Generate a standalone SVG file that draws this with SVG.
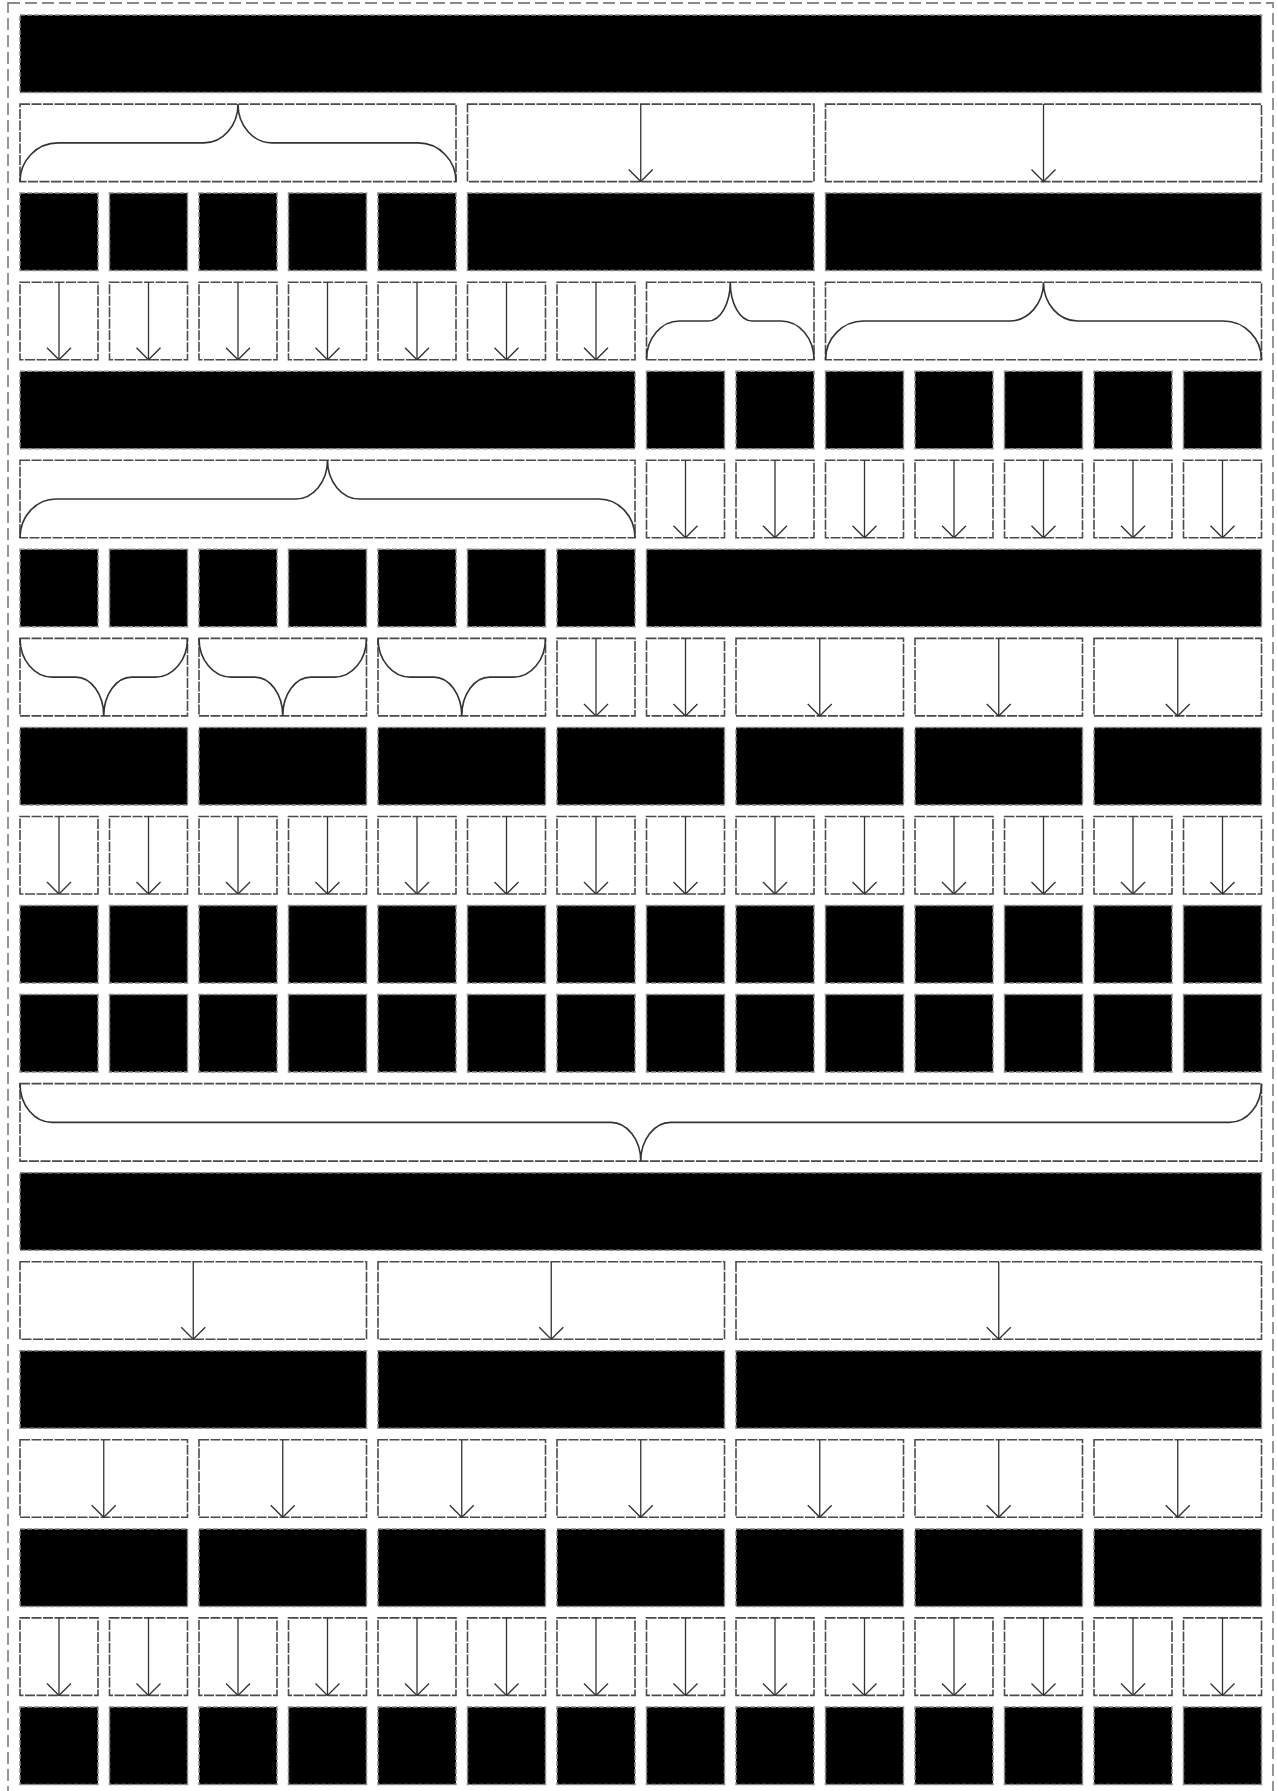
<svg xmlns="http://www.w3.org/2000/svg" width="1277" height="1791" viewBox="0 0 1277 1791">
<style>
.b{fill:#000;stroke:#8a8a8a;stroke-width:1.5;stroke-dasharray:5 2}
.w{fill:#fff;stroke:#4a4a4a;stroke-width:1.6;stroke-dasharray:10 1.5}
.c{fill:none;stroke:#333;stroke-width:1.6}
.a{stroke:#333;stroke-width:1.3;marker-end:url(#ah)}
.frame{fill:none;stroke:#8a8a8a;stroke-width:1.8;stroke-dasharray:12 5}
</style>
<defs>
<marker id="ah" viewBox="0 0 14 26" refX="13" refY="13" markerWidth="14" markerHeight="26" markerUnits="userSpaceOnUse" orient="auto"><path d="M1,1 L13,13 L1,25" fill="none" stroke="#333" stroke-width="1.4"/></marker>
</defs>
<rect width="1277" height="1791" fill="#fff"/>
<rect class="frame" x="8" y="3" width="1265" height="1800"/>
<g id="nodes">
<g transform="translate(0,15)">
<g id="n0_0"><rect class="b" x="20" width="1241.5" height="77.5"/></g>
</g>
<g transform="translate(0,104.1)">
<g id="n1_0"><rect class="w" x="20" width="436" height="77.5"/></g>
<g id="n1_5"><rect class="w" x="467.5" width="346.5" height="77.5"/></g>
<g id="n1_9"><rect class="w" x="825.5" width="436" height="77.5"/></g>
</g>
<g transform="translate(0,193.1)">
<g id="n2_0"><rect class="b" x="20" width="78" height="77.5"/></g>
<g id="n2_1"><rect class="b" x="109.5" width="78" height="77.5"/></g>
<g id="n2_2"><rect class="b" x="199" width="78" height="77.5"/></g>
<g id="n2_3"><rect class="b" x="288.5" width="78" height="77.5"/></g>
<g id="n2_4"><rect class="b" x="378" width="78" height="77.5"/></g>
<g id="n2_5"><rect class="b" x="467.5" width="346.5" height="77.5"/></g>
<g id="n2_9"><rect class="b" x="825.5" width="436" height="77.5"/></g>
</g>
<g transform="translate(0,282.2)">
<g id="n3_0"><rect class="w" x="20" width="78" height="77.5"/></g>
<g id="n3_1"><rect class="w" x="109.5" width="78" height="77.5"/></g>
<g id="n3_2"><rect class="w" x="199" width="78" height="77.5"/></g>
<g id="n3_3"><rect class="w" x="288.5" width="78" height="77.5"/></g>
<g id="n3_4"><rect class="w" x="378" width="78" height="77.5"/></g>
<g id="n3_5"><rect class="w" x="467.5" width="78" height="77.5"/></g>
<g id="n3_6"><rect class="w" x="557" width="78" height="77.5"/></g>
<g id="n3_7"><rect class="w" x="646.5" width="167.5" height="77.5"/></g>
<g id="n3_9"><rect class="w" x="825.5" width="436" height="77.5"/></g>
</g>
<g transform="translate(0,371.2)">
<g id="n4_0"><rect class="b" x="20" width="615" height="77.5"/></g>
<g id="n4_7"><rect class="b" x="646.5" width="78" height="77.5"/></g>
<g id="n4_8"><rect class="b" x="736" width="78" height="77.5"/></g>
<g id="n4_9"><rect class="b" x="825.5" width="78" height="77.5"/></g>
<g id="n4_10"><rect class="b" x="915" width="78" height="77.5"/></g>
<g id="n4_11"><rect class="b" x="1004.5" width="78" height="77.5"/></g>
<g id="n4_12"><rect class="b" x="1094" width="78" height="77.5"/></g>
<g id="n4_13"><rect class="b" x="1183.5" width="78" height="77.5"/></g>
</g>
<g transform="translate(0,460.3)">
<g id="n5_0"><rect class="w" x="20" width="615" height="77.5"/></g>
<g id="n5_7"><rect class="w" x="646.5" width="78" height="77.5"/></g>
<g id="n5_8"><rect class="w" x="736" width="78" height="77.5"/></g>
<g id="n5_9"><rect class="w" x="825.5" width="78" height="77.5"/></g>
<g id="n5_10"><rect class="w" x="915" width="78" height="77.5"/></g>
<g id="n5_11"><rect class="w" x="1004.5" width="78" height="77.5"/></g>
<g id="n5_12"><rect class="w" x="1094" width="78" height="77.5"/></g>
<g id="n5_13"><rect class="w" x="1183.5" width="78" height="77.5"/></g>
</g>
<g transform="translate(0,549.3)">
<g id="n6_0"><rect class="b" x="20" width="78" height="77.5"/></g>
<g id="n6_1"><rect class="b" x="109.5" width="78" height="77.5"/></g>
<g id="n6_2"><rect class="b" x="199" width="78" height="77.5"/></g>
<g id="n6_3"><rect class="b" x="288.5" width="78" height="77.5"/></g>
<g id="n6_4"><rect class="b" x="378" width="78" height="77.5"/></g>
<g id="n6_5"><rect class="b" x="467.5" width="78" height="77.5"/></g>
<g id="n6_6"><rect class="b" x="557" width="78" height="77.5"/></g>
<g id="n6_7"><rect class="b" x="646.5" width="615" height="77.5"/></g>
</g>
<g transform="translate(0,638.4)">
<g id="n7_0"><rect class="w" x="20" width="167.5" height="77.5"/></g>
<g id="n7_2"><rect class="w" x="199" width="167.5" height="77.5"/></g>
<g id="n7_4"><rect class="w" x="378" width="167.5" height="77.5"/></g>
<g id="n7_6"><rect class="w" x="557" width="78" height="77.5"/></g>
<g id="n7_7"><rect class="w" x="646.5" width="78" height="77.5"/></g>
<g id="n7_8"><rect class="w" x="736" width="167.5" height="77.5"/></g>
<g id="n7_10"><rect class="w" x="915" width="167.5" height="77.5"/></g>
<g id="n7_12"><rect class="w" x="1094" width="167.5" height="77.5"/></g>
</g>
<g transform="translate(0,727.4)">
<g id="n8_0"><rect class="b" x="20" width="167.5" height="77.5"/></g>
<g id="n8_2"><rect class="b" x="199" width="167.5" height="77.5"/></g>
<g id="n8_4"><rect class="b" x="378" width="167.5" height="77.5"/></g>
<g id="n8_6"><rect class="b" x="557" width="167.5" height="77.5"/></g>
<g id="n8_8"><rect class="b" x="736" width="167.5" height="77.5"/></g>
<g id="n8_10"><rect class="b" x="915" width="167.5" height="77.5"/></g>
<g id="n8_12"><rect class="b" x="1094" width="167.5" height="77.5"/></g>
</g>
<g transform="translate(0,816.5)">
<g id="n9_0"><rect class="w" x="20" width="78" height="77.5"/></g>
<g id="n9_1"><rect class="w" x="109.5" width="78" height="77.5"/></g>
<g id="n9_2"><rect class="w" x="199" width="78" height="77.5"/></g>
<g id="n9_3"><rect class="w" x="288.5" width="78" height="77.5"/></g>
<g id="n9_4"><rect class="w" x="378" width="78" height="77.5"/></g>
<g id="n9_5"><rect class="w" x="467.5" width="78" height="77.5"/></g>
<g id="n9_6"><rect class="w" x="557" width="78" height="77.5"/></g>
<g id="n9_7"><rect class="w" x="646.5" width="78" height="77.5"/></g>
<g id="n9_8"><rect class="w" x="736" width="78" height="77.5"/></g>
<g id="n9_9"><rect class="w" x="825.5" width="78" height="77.5"/></g>
<g id="n9_10"><rect class="w" x="915" width="78" height="77.5"/></g>
<g id="n9_11"><rect class="w" x="1004.5" width="78" height="77.5"/></g>
<g id="n9_12"><rect class="w" x="1094" width="78" height="77.5"/></g>
<g id="n9_13"><rect class="w" x="1183.5" width="78" height="77.5"/></g>
</g>
<g transform="translate(0,905.5)">
<g id="n10_0"><rect class="b" x="20" width="78" height="77.5"/></g>
<g id="n10_1"><rect class="b" x="109.5" width="78" height="77.5"/></g>
<g id="n10_2"><rect class="b" x="199" width="78" height="77.5"/></g>
<g id="n10_3"><rect class="b" x="288.5" width="78" height="77.5"/></g>
<g id="n10_4"><rect class="b" x="378" width="78" height="77.5"/></g>
<g id="n10_5"><rect class="b" x="467.5" width="78" height="77.5"/></g>
<g id="n10_6"><rect class="b" x="557" width="78" height="77.5"/></g>
<g id="n10_7"><rect class="b" x="646.5" width="78" height="77.5"/></g>
<g id="n10_8"><rect class="b" x="736" width="78" height="77.5"/></g>
<g id="n10_9"><rect class="b" x="825.5" width="78" height="77.5"/></g>
<g id="n10_10"><rect class="b" x="915" width="78" height="77.5"/></g>
<g id="n10_11"><rect class="b" x="1004.5" width="78" height="77.5"/></g>
<g id="n10_12"><rect class="b" x="1094" width="78" height="77.5"/></g>
<g id="n10_13"><rect class="b" x="1183.5" width="78" height="77.5"/></g>
</g>
<g transform="translate(0,994.6)">
<g id="n11_0"><rect class="b" x="20" width="78" height="77.5"/></g>
<g id="n11_1"><rect class="b" x="109.5" width="78" height="77.5"/></g>
<g id="n11_2"><rect class="b" x="199" width="78" height="77.5"/></g>
<g id="n11_3"><rect class="b" x="288.5" width="78" height="77.5"/></g>
<g id="n11_4"><rect class="b" x="378" width="78" height="77.5"/></g>
<g id="n11_5"><rect class="b" x="467.5" width="78" height="77.5"/></g>
<g id="n11_6"><rect class="b" x="557" width="78" height="77.5"/></g>
<g id="n11_7"><rect class="b" x="646.5" width="78" height="77.5"/></g>
<g id="n11_8"><rect class="b" x="736" width="78" height="77.5"/></g>
<g id="n11_9"><rect class="b" x="825.5" width="78" height="77.5"/></g>
<g id="n11_10"><rect class="b" x="915" width="78" height="77.5"/></g>
<g id="n11_11"><rect class="b" x="1004.5" width="78" height="77.5"/></g>
<g id="n11_12"><rect class="b" x="1094" width="78" height="77.5"/></g>
<g id="n11_13"><rect class="b" x="1183.5" width="78" height="77.5"/></g>
</g>
<g transform="translate(0,1083.6)">
<g id="n12_0"><rect class="w" x="20" width="1241.5" height="77.5"/></g>
</g>
<g transform="translate(0,1172.7)">
<g id="n13_0"><rect class="b" x="20" width="1241.5" height="77.5"/></g>
</g>
<g transform="translate(0,1261.7)">
<g id="n14_0"><rect class="w" x="20" width="346.5" height="77.5"/></g>
<g id="n14_4"><rect class="w" x="378" width="346.5" height="77.5"/></g>
<g id="n14_8"><rect class="w" x="736" width="525.5" height="77.5"/></g>
</g>
<g transform="translate(0,1350.8)">
<g id="n15_0"><rect class="b" x="20" width="346.5" height="77.5"/></g>
<g id="n15_4"><rect class="b" x="378" width="346.5" height="77.5"/></g>
<g id="n15_8"><rect class="b" x="736" width="525.5" height="77.5"/></g>
</g>
<g transform="translate(0,1439.8)">
<g id="n16_0"><rect class="w" x="20" width="167.5" height="77.5"/></g>
<g id="n16_2"><rect class="w" x="199" width="167.5" height="77.5"/></g>
<g id="n16_4"><rect class="w" x="378" width="167.5" height="77.5"/></g>
<g id="n16_6"><rect class="w" x="557" width="167.5" height="77.5"/></g>
<g id="n16_8"><rect class="w" x="736" width="167.5" height="77.5"/></g>
<g id="n16_10"><rect class="w" x="915" width="167.5" height="77.5"/></g>
<g id="n16_12"><rect class="w" x="1094" width="167.5" height="77.5"/></g>
</g>
<g transform="translate(0,1528.9)">
<g id="n17_0"><rect class="b" x="20" width="167.5" height="77.5"/></g>
<g id="n17_2"><rect class="b" x="199" width="167.5" height="77.5"/></g>
<g id="n17_4"><rect class="b" x="378" width="167.5" height="77.5"/></g>
<g id="n17_6"><rect class="b" x="557" width="167.5" height="77.5"/></g>
<g id="n17_8"><rect class="b" x="736" width="167.5" height="77.5"/></g>
<g id="n17_10"><rect class="b" x="915" width="167.5" height="77.5"/></g>
<g id="n17_12"><rect class="b" x="1094" width="167.5" height="77.5"/></g>
</g>
<g transform="translate(0,1617.9)">
<g id="n18_0"><rect class="w" x="20" width="78" height="77.5"/></g>
<g id="n18_1"><rect class="w" x="109.5" width="78" height="77.5"/></g>
<g id="n18_2"><rect class="w" x="199" width="78" height="77.5"/></g>
<g id="n18_3"><rect class="w" x="288.5" width="78" height="77.5"/></g>
<g id="n18_4"><rect class="w" x="378" width="78" height="77.5"/></g>
<g id="n18_5"><rect class="w" x="467.5" width="78" height="77.5"/></g>
<g id="n18_6"><rect class="w" x="557" width="78" height="77.5"/></g>
<g id="n18_7"><rect class="w" x="646.5" width="78" height="77.5"/></g>
<g id="n18_8"><rect class="w" x="736" width="78" height="77.5"/></g>
<g id="n18_9"><rect class="w" x="825.5" width="78" height="77.5"/></g>
<g id="n18_10"><rect class="w" x="915" width="78" height="77.5"/></g>
<g id="n18_11"><rect class="w" x="1004.5" width="78" height="77.5"/></g>
<g id="n18_12"><rect class="w" x="1094" width="78" height="77.5"/></g>
<g id="n18_13"><rect class="w" x="1183.5" width="78" height="77.5"/></g>
</g>
<g transform="translate(0,1707)">
<g id="n19_0"><rect class="b" x="20" width="78" height="77.5"/></g>
<g id="n19_1"><rect class="b" x="109.5" width="78" height="77.5"/></g>
<g id="n19_2"><rect class="b" x="199" width="78" height="77.5"/></g>
<g id="n19_3"><rect class="b" x="288.5" width="78" height="77.5"/></g>
<g id="n19_4"><rect class="b" x="378" width="78" height="77.5"/></g>
<g id="n19_5"><rect class="b" x="467.5" width="78" height="77.5"/></g>
<g id="n19_6"><rect class="b" x="557" width="78" height="77.5"/></g>
<g id="n19_7"><rect class="b" x="646.5" width="78" height="77.5"/></g>
<g id="n19_8"><rect class="b" x="736" width="78" height="77.5"/></g>
<g id="n19_9"><rect class="b" x="825.5" width="78" height="77.5"/></g>
<g id="n19_10"><rect class="b" x="915" width="78" height="77.5"/></g>
<g id="n19_11"><rect class="b" x="1004.5" width="78" height="77.5"/></g>
<g id="n19_12"><rect class="b" x="1094" width="78" height="77.5"/></g>
<g id="n19_13"><rect class="b" x="1183.5" width="78" height="77.5"/></g>
</g>
</g>
<g id="connectors">
<path class="c" d="M20 181.6 A38 38.7 0 0 1 58 142.9 L204 142.9 A34 38.7 0 0 0 238 104.1 A34 38.7 0 0 0 272 142.9 L418 142.9 A38 38.7 0 0 1 456 181.6"/>
<path class="c" d="M646.5 359.7 A33 38.7 0 0 1 679.5 321 L708.25 321 A22 38.7 0 0 0 730.25 282.2 A22 38.7 0 0 0 752.25 321 L781 321 A33 38.7 0 0 1 814 359.7"/>
<path class="c" d="M825.5 359.7 A38 38.7 0 0 1 863.5 321 L1009.5 321 A34 38.7 0 0 0 1043.5 282.2 A34 38.7 0 0 0 1077.5 321 L1223.5 321 A38 38.7 0 0 1 1261.5 359.7"/>
<path class="c" d="M20 537.8 A36 38.7 0 0 1 56 499 L295.5 499 A32 38.7 0 0 0 327.5 460.3 A32 38.7 0 0 0 359.5 499 L599 499 A36 38.7 0 0 1 635 537.8"/>
<path class="c" d="M20 638.4 A32 38.7 0 0 0 52 677.1 L75.75 677.1 A28 38.7 0 0 1 103.75 715.9 A28 38.7 0 0 1 131.75 677.1 L155.5 677.1 A32 38.7 0 0 0 187.5 638.4"/>
<path class="c" d="M199 638.4 A32 38.7 0 0 0 231 677.1 L254.75 677.1 A28 38.7 0 0 1 282.75 715.9 A28 38.7 0 0 1 310.75 677.1 L334.5 677.1 A32 38.7 0 0 0 366.5 638.4"/>
<path class="c" d="M378 638.4 A32 38.7 0 0 0 410 677.1 L433.75 677.1 A28 38.7 0 0 1 461.75 715.9 A28 38.7 0 0 1 489.75 677.1 L513.5 677.1 A32 38.7 0 0 0 545.5 638.4"/>
<path class="c" d="M20 1083.6 A32 38.7 0 0 0 52 1122.4 L610.75 1122.4 A30 38.7 0 0 1 640.75 1161.1 A30 38.7 0 0 1 670.75 1122.4 L1229.5 1122.4 A32 38.7 0 0 0 1261.5 1083.6"/>
<g transform="translate(0,104.1)">
<line class="a" x1="640.75" y1="0" x2="640.75" y2="77.5"/>
<line class="a" x1="1043.5" y1="0" x2="1043.5" y2="77.5"/>
</g>
<g transform="translate(0,282.2)">
<line class="a" x1="59" y1="0" x2="59" y2="77.5"/>
<line class="a" x1="148.5" y1="0" x2="148.5" y2="77.5"/>
<line class="a" x1="238" y1="0" x2="238" y2="77.5"/>
<line class="a" x1="327.5" y1="0" x2="327.5" y2="77.5"/>
<line class="a" x1="417" y1="0" x2="417" y2="77.5"/>
<line class="a" x1="506.5" y1="0" x2="506.5" y2="77.5"/>
<line class="a" x1="596" y1="0" x2="596" y2="77.5"/>
</g>
<g transform="translate(0,460.3)">
<line class="a" x1="685.5" y1="0" x2="685.5" y2="77.5"/>
<line class="a" x1="775" y1="0" x2="775" y2="77.5"/>
<line class="a" x1="864.5" y1="0" x2="864.5" y2="77.5"/>
<line class="a" x1="954" y1="0" x2="954" y2="77.5"/>
<line class="a" x1="1043.5" y1="0" x2="1043.5" y2="77.5"/>
<line class="a" x1="1133" y1="0" x2="1133" y2="77.5"/>
<line class="a" x1="1222.5" y1="0" x2="1222.5" y2="77.5"/>
</g>
<g transform="translate(0,638.4)">
<line class="a" x1="596" y1="0" x2="596" y2="77.5"/>
<line class="a" x1="685.5" y1="0" x2="685.5" y2="77.5"/>
<line class="a" x1="819.75" y1="0" x2="819.75" y2="77.5"/>
<line class="a" x1="998.75" y1="0" x2="998.75" y2="77.5"/>
<line class="a" x1="1177.75" y1="0" x2="1177.75" y2="77.5"/>
</g>
<g transform="translate(0,816.5)">
<line class="a" x1="59" y1="0" x2="59" y2="77.5"/>
<line class="a" x1="148.5" y1="0" x2="148.5" y2="77.5"/>
<line class="a" x1="238" y1="0" x2="238" y2="77.5"/>
<line class="a" x1="327.5" y1="0" x2="327.5" y2="77.5"/>
<line class="a" x1="417" y1="0" x2="417" y2="77.5"/>
<line class="a" x1="506.5" y1="0" x2="506.5" y2="77.5"/>
<line class="a" x1="596" y1="0" x2="596" y2="77.5"/>
<line class="a" x1="685.5" y1="0" x2="685.5" y2="77.5"/>
<line class="a" x1="775" y1="0" x2="775" y2="77.5"/>
<line class="a" x1="864.5" y1="0" x2="864.5" y2="77.5"/>
<line class="a" x1="954" y1="0" x2="954" y2="77.5"/>
<line class="a" x1="1043.5" y1="0" x2="1043.5" y2="77.5"/>
<line class="a" x1="1133" y1="0" x2="1133" y2="77.5"/>
<line class="a" x1="1222.5" y1="0" x2="1222.5" y2="77.5"/>
</g>
<g transform="translate(0,1261.7)">
<line class="a" x1="193.25" y1="0" x2="193.25" y2="77.5"/>
<line class="a" x1="551.25" y1="0" x2="551.25" y2="77.5"/>
<line class="a" x1="998.75" y1="0" x2="998.75" y2="77.5"/>
</g>
<g transform="translate(0,1439.8)">
<line class="a" x1="103.75" y1="0" x2="103.75" y2="77.5"/>
<line class="a" x1="282.75" y1="0" x2="282.75" y2="77.5"/>
<line class="a" x1="461.75" y1="0" x2="461.75" y2="77.5"/>
<line class="a" x1="640.75" y1="0" x2="640.75" y2="77.5"/>
<line class="a" x1="819.75" y1="0" x2="819.75" y2="77.5"/>
<line class="a" x1="998.75" y1="0" x2="998.75" y2="77.5"/>
<line class="a" x1="1177.75" y1="0" x2="1177.75" y2="77.5"/>
</g>
<g transform="translate(0,1617.9)">
<line class="a" x1="59" y1="0" x2="59" y2="77.5"/>
<line class="a" x1="148.5" y1="0" x2="148.5" y2="77.5"/>
<line class="a" x1="238" y1="0" x2="238" y2="77.5"/>
<line class="a" x1="327.5" y1="0" x2="327.5" y2="77.5"/>
<line class="a" x1="417" y1="0" x2="417" y2="77.5"/>
<line class="a" x1="506.5" y1="0" x2="506.5" y2="77.5"/>
<line class="a" x1="596" y1="0" x2="596" y2="77.5"/>
<line class="a" x1="685.5" y1="0" x2="685.5" y2="77.5"/>
<line class="a" x1="775" y1="0" x2="775" y2="77.5"/>
<line class="a" x1="864.5" y1="0" x2="864.5" y2="77.5"/>
<line class="a" x1="954" y1="0" x2="954" y2="77.5"/>
<line class="a" x1="1043.5" y1="0" x2="1043.5" y2="77.5"/>
<line class="a" x1="1133" y1="0" x2="1133" y2="77.5"/>
<line class="a" x1="1222.5" y1="0" x2="1222.5" y2="77.5"/>
</g>
</g>
</svg>
